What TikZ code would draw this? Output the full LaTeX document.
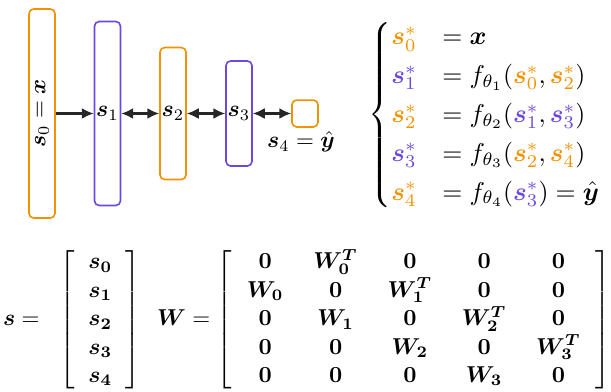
\RequirePackage{fix-cm}
\documentclass[tikz,border=0pt]{standalone}
\usepackage{amsmath, amssymb}
\usepackage{bm}
\usepackage{tikz}
\usetikzlibrary{arrows.meta, positioning}
\usepackage{xcolor}
\definecolor{layerorange}{RGB}{242,146,0}
\definecolor{layerpurple}{RGB}{108,72,224}
\newcommand{\sorange}[1]{\textcolor{layerorange}{\bm{s}_{#1}^*}}
\newcommand{\spurple}[1]{\textcolor{layerpurple}{\bm{s}_{#1}^*}}

\begin{document}
\begin{tikzpicture}[x=0.435pt, y=-0.435pt,
    layer/.style={draw, rounded corners=2pt, line width=0.7pt, minimum width=11.3pt, inner sep=0pt},
    obox/.style={layer, draw=layerorange},
    pbox/.style={layer, draw=layerpurple},
    link/.style={line width=0.9pt, draw=black!85, -{Latex[length=5.2pt, width=4.8pt]}},
    dlink/.style={link, {Latex[length=5.2pt, width=4.8pt]}-{Latex[length=5.2pt, width=4.8pt]}}]
    \useasboundingbox (0,0) rectangle (611,391);

    % 各层
    \node[obox, rotate=90, minimum width=90.9pt, minimum height=11.3pt] (s0) at (42,113.5) {$\bm{s}_0 = \bm{x}$};
    \node[pbox, minimum height=80pt] (s1) at (107.5,113.5) {$\bm{s}_1$};
    \node[obox, minimum height=57.4pt] (s2) at (173,113.5) {$\bm{s}_2$};
    \node[pbox, minimum height=45.7pt] (s3) at (239,113.5) {$\bm{s}_3$};
    \node[obox, minimum height=11.7pt] (s4) at (305,113.5) {};
    \node (s4lab) at (301,142) {$\bm{s}_4 = \hat{\bm{y}}$};

    % 连接
    \draw[link] (s0) -- (s1);
    \draw[dlink] (s1) -- (s2);
    \draw[dlink] (s2) -- (s3);
    \draw[dlink] (s3) -- (s4);

    % 平衡方程
    \node[anchor=west, inner sep=0pt, font=\fontsize{11.2}{13.4}\selectfont] (eqs) at (368,115) {$\begin{cases}
        \sorange{0} & = \bm{x} \\[0.8pt]
        \spurple{1} & = f_{\theta_1}(\sorange{0}, \sorange{2}) \\[0.8pt]
        \sorange{2} & = f_{\theta_2}(\spurple{1}, \spurple{3}) \\[0.8pt]
        \spurple{3} & = f_{\theta_3}(\sorange{2}, \sorange{4}) \\[0.8pt]
        \sorange{4} & = f_{\theta_4}(\spurple{3}) = \hat{\bm{y}}
    \end{cases}$};

    % 状态向量与权重矩阵
    \node[inner sep=0pt] (svec) at (72,320) {$\renewcommand{\arraystretch}{1.03}\setlength{\arraycolsep}{5.8pt}\bm{s} = \hspace{6pt}\left[\begin{array}{c}
        \bm{s_0} \\ \bm{s_1} \\ \bm{s_2} \\ \bm{s_3} \\ \bm{s_4}
    \end{array}\right]$};
    \node[inner sep=0pt] (wmat) at (384,320) {$\renewcommand{\arraystretch}{1.03}\setlength{\arraycolsep}{6.5pt}\bm{W} = \left[\begin{array}{ccccc}
        \bm{0} & \bm{W_0^T} & \bm{0} & \bm{0} & \bm{0} \\
        \bm{W_0} & \bm{0} & \bm{W_1^T} & \bm{0} & \bm{0} \\
        \bm{0} & \bm{W_1} & \bm{0} & \bm{W_2^T} & \bm{0} \\
        \bm{0} & \bm{0} & \bm{W_2} & \bm{0} & \bm{W_3^T} \\
        \bm{0} & \bm{0} & \bm{0} & \bm{W_3} & \bm{0}
    \end{array}\right]$};
\end{tikzpicture}
\end{document}
